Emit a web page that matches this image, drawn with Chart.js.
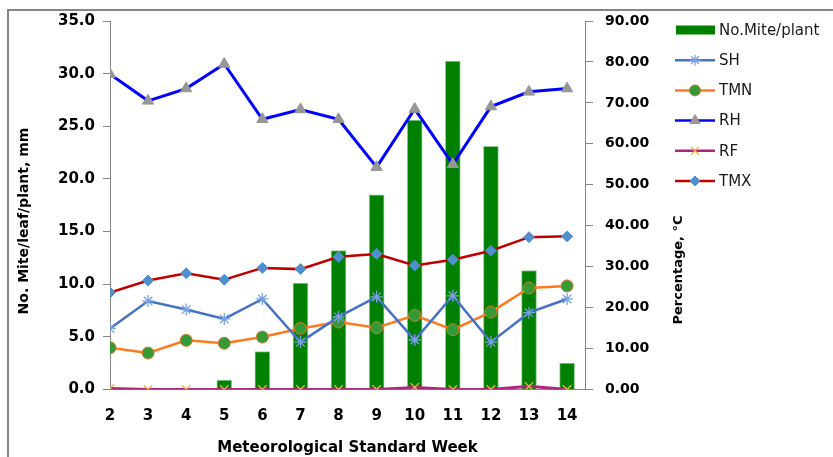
<!DOCTYPE html>
<html>
<head>
<meta charset="utf-8">
<script src="https://cdn.jsdelivr.net/npm/chart.js"></script>
<style>
  html, body { margin: 0; padding: 0; background: #fff; overflow: hidden; }
  #frame { position: absolute; left: 7px; top: 9px; width: 900px; height: 500px;
           border-left: 2px solid #858585; border-top: 2px solid #858585; }
  #c { position: absolute; left: 0; top: 0; }
</style>
</head>
<body>
<div id="frame"></div>
<canvas id="c" width="833" height="457"></canvas>
<script>
// Meteorological standard weeks
const weeks = [2, 3, 4, 5, 6, 7, 8, 9, 10, 11, 12, 13, 14];

// Mite population per leaf (left axis)
const mitesPerPlant = [0, 0, 0, 0.9, 3.6, 10.1, 13.2, 18.5, 25.6, 31.2, 23.1, 11.3, 2.5];
// Sunshine hours (left axis)
const sunshine = [5.8, 8.4, 7.6, 6.7, 8.6, 4.5, 6.9, 8.8, 4.7, 8.9, 4.5, 7.3, 8.6];
// Rainfall, mm (left axis)
const rainfall = [0.1, 0, 0, 0, 0, 0, 0, 0, 0.2, 0, 0, 0.3, 0];
// Minimum temperature, °C (right axis)
const tempMin = [10.2, 8.9, 12.0, 11.3, 12.8, 14.9, 16.5, 15.1, 18.1, 14.6, 18.9, 24.8, 25.3];
// Relative humidity, % (right axis)
const humidity = [77.0, 70.5, 73.5, 79.5, 66.0, 68.4, 66.0, 54.3, 68.5, 55.0, 69.1, 72.7, 73.5];
// Maximum temperature, °C (right axis)
const tempMax = [23.7, 26.6, 28.4, 26.8, 29.7, 29.4, 32.4, 33.1, 30.3, 31.7, 33.9, 37.2, 37.4];

const seriesNames = ['No.Mite/plant', 'SH', 'TMN', 'RH', 'RF', 'TMX'];
const leftTicks = [0, 5, 10, 15, 20, 25, 30, 35];
const rightTicks = [0, 10, 20, 30, 40, 50, 60, 70, 80, 90];

const FONT = "'DejaVu Sans', Verdana, sans-serif";
const pts = arr => weeks.map((w, i) => ({ x: w, y: arr[i] }));

const datasets = [
  { type: 'line', label: seriesNames[1], data: pts(sunshine), yAxisID: 'y',
    borderColor: '#4472C4', borderWidth: 2.5, pointStyle: 'star', pointRadius: 6,
    pointBorderColor: '#7aa3e0', pointBackgroundColor: '#7aa3e0', pointBorderWidth: 1.3, order: 1 },
  { type: 'line', label: seriesNames[2], data: pts(tempMin), yAxisID: 'y1',
    borderColor: '#FF7A1F', borderWidth: 2.5, pointStyle: 'circle', pointRadius: 6,
    pointBackgroundColor: '#359a35', pointBorderColor: '#d07a2a', pointBorderWidth: 1, order: 1 },
  { type: 'line', label: seriesNames[3], data: pts(humidity), yAxisID: 'y1',
    borderColor: '#0000FF', borderWidth: 3, pointStyle: 'triangle', pointRadius: 6.5,
    pointBackgroundColor: '#979797', pointBorderColor: '#979797', pointBorderWidth: 1, order: 1 },
  { type: 'line', label: seriesNames[4], data: pts(rainfall), yAxisID: 'y',
    borderColor: '#B0257C', borderWidth: 3, pointStyle: 'crossRot', pointRadius: 6,
    pointBorderColor: '#F2B340', pointBackgroundColor: '#F2B340', pointBorderWidth: 1.3, order: 1 },
  { type: 'line', label: seriesNames[5], data: pts(tempMax), yAxisID: 'y1',
    borderColor: '#C00000', borderWidth: 2.5, pointStyle: 'rectRot', pointRadius: 5.5,
    pointBackgroundColor: '#4F8FCC', pointBorderColor: '#4F8FCC', pointBorderWidth: 1, order: 1 },
  { type: 'bar', label: seriesNames[0], data: pts(mitesPerPlant), yAxisID: 'y',
    backgroundColor: '#008000', borderColor: '#95cf95', borderWidth: 1,
    barThickness: 15, order: 10 }
];

// Small marker painter for the legend swatches
function drawMarker(ctx, style, x, y, r, fill, stroke, lw) {
  ctx.save();
  ctx.fillStyle = fill; ctx.strokeStyle = stroke; ctx.lineWidth = lw;
  ctx.beginPath();
  if (style === 'circle') {
    ctx.arc(x, y, r, 0, Math.PI * 2); ctx.fill(); ctx.stroke();
  } else if (style === 'triangle') {
    for (let k = 0; k < 3; k++) {
      const a = k * 2 * Math.PI / 3;
      const px = x + Math.sin(a) * r, py = y - Math.cos(a) * r;
      k ? ctx.lineTo(px, py) : ctx.moveTo(px, py);
    }
    ctx.closePath(); ctx.fill(); ctx.stroke();
  } else if (style === 'rectRot') {
    ctx.moveTo(x, y - r); ctx.lineTo(x + r, y); ctx.lineTo(x, y + r); ctx.lineTo(x - r, y);
    ctx.closePath(); ctx.fill(); ctx.stroke();
  } else {
    const d = r * Math.SQRT1_2;
    ctx.moveTo(x - d, y - d); ctx.lineTo(x + d, y + d);
    ctx.moveTo(x + d, y - d); ctx.lineTo(x - d, y + d);
    if (style === 'star') {
      ctx.moveTo(x, y - r); ctx.lineTo(x, y + r);
      ctx.moveTo(x - r, y); ctx.lineTo(x + r, y);
    }
    ctx.stroke();
  }
  ctx.restore();
}

const sidePlugin = {
  id: 'sideText',
  afterDraw(chart) {
    const ctx = chart.ctx;
    ctx.save();
    // Axis titles, reading bottom to top
    ctx.fillStyle = '#000';
    ctx.textAlign = 'center';
    ctx.textBaseline = 'middle';
    ctx.save();
    ctx.translate(24, 221); ctx.rotate(-Math.PI / 2);
    ctx.font = 'bold 14px ' + FONT;
    ctx.fillText('No. Mite/leaf/plant, mm', 0, 0);
    ctx.restore();
    ctx.save();
    ctx.translate(679, 270); ctx.rotate(-Math.PI / 2);
    ctx.font = 'bold 13px ' + FONT;
    ctx.fillText('Percentage, °C', 0, 0);
    ctx.restore();

    // Legend
    const order = [5, 0, 1, 2, 3, 4];
    ctx.font = '15px ' + FONT;
    ctx.textAlign = 'left';
    order.forEach((di, row) => {
      const ds = chart.data.datasets[di];
      const y = 30 + row * 30.2;
      if (ds.type === 'bar') {
        ctx.fillStyle = ds.backgroundColor;
        ctx.fillRect(676, y - 4.5, 39, 9);
      } else {
        ctx.strokeStyle = ds.borderColor;
        ctx.lineWidth = 2.5;
        ctx.beginPath(); ctx.moveTo(675, y); ctx.lineTo(715, y); ctx.stroke();
        drawMarker(ctx, ds.pointStyle, 695, y, ds.pointRadius - 0.5,
                   ds.pointBackgroundColor, ds.pointBorderColor, ds.pointBorderWidth);
      }
      ctx.fillStyle = '#1a1a1a';
      ctx.fillText(ds.label, 719, y + 1);
    });
    ctx.restore();
  }
};

new Chart(document.getElementById('c'), {
  data: { datasets },
  plugins: [sidePlugin],
  options: {
    responsive: false,
    animation: false,
    devicePixelRatio: 1,
    layout: { padding: { left: 0, right: 0, top: 21, bottom: 0 } },
    plugins: { legend: { display: false }, tooltip: { enabled: false } },
    scales: {
      x: {
        type: 'linear', position: 'bottom', min: 2, max: 14.47, offset: false,
        afterBuildTicks: s => { s.ticks = weeks.map(v => ({ value: v })); },
        afterFit: s => { s.height = 67.5; },
        grid: { display: false, offset: false },
        border: { display: true, color: '#868686', width: 1 },
        ticks: { color: '#000', padding: 10, maxRotation: 0, autoSkip: false,
                 font: { family: FONT, size: 15, weight: 'bold' } },
        title: { display: true, text: 'Meteorological Standard Week', color: '#000',
                 padding: { top: 0, bottom: 0 },
                 font: { family: FONT, size: 15, weight: 'bold' } }
      },
      y: {
        position: 'left', min: 0, max: 35,
        afterBuildTicks: s => { s.ticks = leftTicks.map(v => ({ value: v })); },
        afterFit: s => { s.width = 110; },
        grid: { drawOnChartArea: false, drawTicks: true, tickLength: 7, color: '#868686' },
        border: { display: true, color: '#868686', width: 1 },
        ticks: { color: '#000', padding: 8, callback: v => Number(v).toFixed(1),
                 font: { family: FONT, size: 15, weight: 'bold' } }
      },
      y1: {
        position: 'right', min: 0, max: 90,
        afterBuildTicks: s => { s.ticks = rightTicks.map(v => ({ value: v })); },
        afterFit: s => { s.width = 248; },
        grid: { drawOnChartArea: false, drawTicks: true, tickLength: 8, color: '#868686' },
        border: { display: true, color: '#868686', width: 1 },
        ticks: { color: '#000', padding: 12, callback: v => Number(v).toFixed(2),
                 font: { family: FONT, size: 14, weight: 'bold' } }
      }
    }
  }
});
</script>
</body>
</html>
